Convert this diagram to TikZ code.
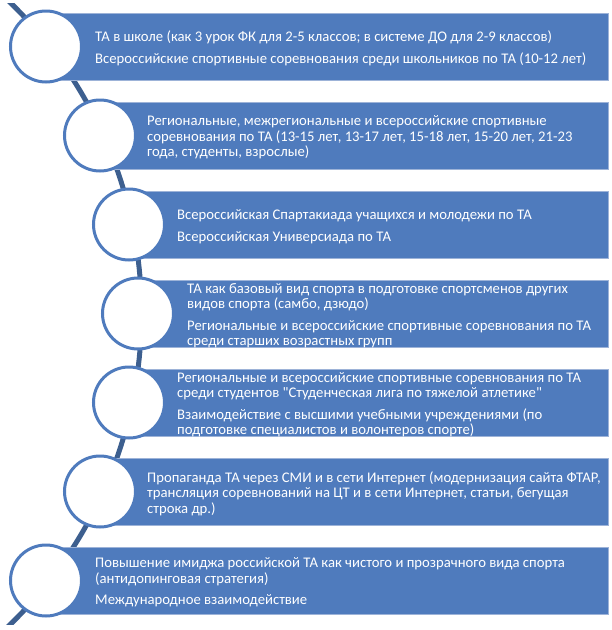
\documentclass[tikz,border=0pt]{standalone}
\usepackage{fontspec}
\setmainfont{Carlito}[Ligatures=TeXOff]
\definecolor{barblue}{HTML}{4F7BBD}
\definecolor{arcblue}{HTML}{3D5F8F}
\definecolor{baredge}{HTML}{9DB3D8}
\begin{document}
\begin{tikzpicture}[x=1pt,y=-1pt,
  bar/.style={rectangle, fill=barblue, draw=baredge, line width=0.6pt, minimum height=67pt, inner sep=0pt, anchor=west},
  ring/.style={circle, fill=white, draw=barblue, line width=3pt, minimum size=71pt, inner sep=0pt},
  txt/.style={text=white, align=left, anchor=west, inner sep=0pt, yshift=-2pt, font=\fontsize{14.7}{15.5}\selectfont},
  link/.style={draw=arcblue, line width=5pt}]
\useasboundingbox (0,0) rectangle (612,630);
% background arc
\coordinate (arcc) at (-292.5,313.5);
\begin{scope}
\clip (0,3) rectangle (612,624);
\draw[link] (arcc) circle[radius=434pt];
\end{scope}
% bars
\node[bar, minimum width=562pt] (b1) at (46,46.5) {};
\node[bar, minimum width=508pt] (b2) at (100,135.5) {};
\node[bar, minimum width=479pt] (b3) at (129,224.5) {};
\node[bar, minimum width=470pt] (b4) at (138,313.5) {};
\node[bar, minimum width=479pt] (b5) at (129,402.5) {};
\node[bar, minimum width=508pt] (b6) at (100,491.5) {};
\node[bar, minimum width=562pt] (b7) at (46,580.5) {};
% circles
\node[ring] (c1) at (46,46.5) {};
\node[ring] (c2) at (100,135.5) {};
\node[ring] (c3) at (129,224.5) {};
\node[ring] (c4) at (138,313.5) {};
\node[ring] (c5) at (129,402.5) {};
\node[ring] (c6) at (100,491.5) {};
\node[ring] (c7) at (46,580.5) {};
% texts
\node[txt] (t1) at (95,46.5) {ТА в школе (как 3 урок ФК для 2-5 классов; в системе ДО для 2-9 классов)\\[6pt]Всероссийские спортивные соревнования среди школьников по ТА (10-12 лет)};
\node[txt] (t2) at (147,135.5) {Региональные, межрегиональные и всероссийские спортивные\\соревнования по ТА (13-15 лет, 13-17 лет, 15-18 лет, 15-20 лет, 21-23\\года, студенты, взрослые)};
\node[txt] (t3) at (177,224.5) {Всероссийская Спартакиада учащихся и молодежи по ТА\\[6pt]Всероссийская Универсиада по ТА};
\node[txt] (t4) at (187,313.5) {ТА как базовый вид спорта в подготовке спортсменов других\\видов спорта (самбо, дзюдо)\\[6pt]Региональные и всероссийские спортивные соревнования по ТА\\среди старших возрастных групп};
\node[txt] (t5) at (177,402.5) {Региональные и всероссийские спортивные соревнования по ТА\\среди студентов "Студенческая лига по тяжелой атлетике"\\[6pt]Взаимодействие с высшими учебными учреждениями (по\\подготовке специалистов и волонтеров спорте)};
\node[txt] (t6) at (147,491.5) {Пропаганда ТА через СМИ и в сети Интернет (модернизация сайта ФТАР,\\трансляция соревнований на ЦТ и в сети Интернет, статьи, бегущая\\строка др.)};
\node[txt] (t7) at (95,580.5) {Повышение имиджа российской ТА как чистого и прозрачного вида спорта\\(антидопинговая стратегия)\\[6pt]Международное взаимодействие};
\end{tikzpicture}
\end{document}
